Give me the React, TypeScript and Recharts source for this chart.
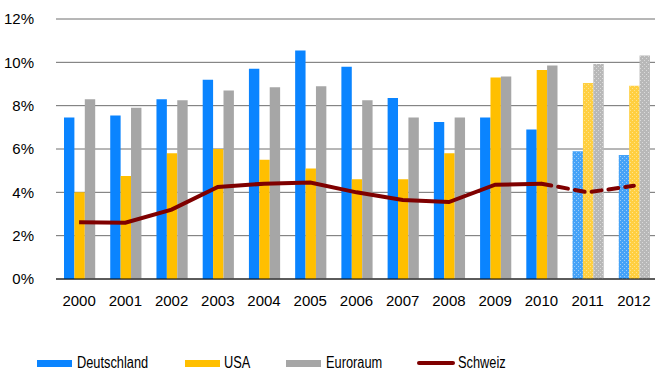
import React from 'react';
import {
  ComposedChart,
  Bar,
  Line,
  XAxis,
  YAxis,
  CartesianGrid,
  Cell,
} from 'recharts';

// Arbeitslosenquoten in Prozent, 2011 und 2012 Prognosen
const years = ['2000', '2001', '2002', '2003', '2004', '2005', '2006', '2007', '2008', '2009', '2010', '2011', '2012'];
const deutschland = [7.45, 7.55, 8.3, 9.2, 9.7, 10.55, 9.8, 8.35, 7.25, 7.45, 6.9, 5.9, 5.72];
const usa = [4.0, 4.75, 5.8, 6.0, 5.5, 5.1, 4.6, 4.6, 5.8, 9.3, 9.65, 9.05, 8.92];
const euroraum = [8.3, 7.9, 8.25, 8.7, 8.85, 8.9, 8.25, 7.45, 7.45, 9.35, 9.85, 9.92, 10.32];
const schweiz = [2.62, 2.6, 3.2, 4.25, 4.4, 4.45, 4.0, 3.65, 3.55, 4.35, 4.4, 4.0, 4.3];
const forecastFrom = '2010';
const forecastYears = ['2011', '2012'];
const yTicks = [0, 2, 4, 6, 8, 10, 12];

const seriesNames = {
  de: 'Deutschland',
  us: 'USA',
  eu: 'Euroraum',
  ch: 'Schweiz',
};

const colors = {
  de: '#0A84FF',
  us: '#FFBF00',
  eu: '#A6A6A6',
  ch: '#7F0000',
};

const forecastIndex = years.indexOf(forecastFrom);

const data = years.map((year, i) => ({
  year,
  de: deutschland[i],
  us: usa[i],
  eu: euroraum[i],
  ch: i <= forecastIndex ? schweiz[i] : null,
  chForecast: i >= forecastIndex ? schweiz[i] : null,
}));

const isForecast = (year: string) => forecastYears.includes(year);

const Pattern = ({ id, base, dot }: { id: string; base: string; dot: string }) => (
  <pattern id={id} width="4" height="4" patternUnits="userSpaceOnUse">
    <rect width="4" height="4" fill={base} />
    <rect x="0" y="0" width="1" height="1" fill={dot} />
    <rect x="2" y="2" width="1" height="1" fill={dot} />
  </pattern>
);

const legendItems = [
  { key: 'de', left: 37, textLeft: 77, type: 'rect' },
  { key: 'us', left: 185, textLeft: 224, type: 'rect' },
  { key: 'eu', left: 286, textLeft: 326, type: 'rect' },
  { key: 'ch', left: 417, textLeft: 458, type: 'line' },
] as const;

const ChartLegend = () => (
  <div style={{ position: 'absolute', left: 0, top: 350, width: 655, height: 24 }}>
    {legendItems.map((item) => (
      <React.Fragment key={item.key}>
        {item.type === 'rect' ? (
          <div
            style={{
              position: 'absolute',
              left: item.left,
              top: 10,
              width: 35,
              height: 7,
              background: colors[item.key],
            }}
          />
        ) : (
          <div
            style={{
              position: 'absolute',
              left: item.left,
              top: 11,
              width: 38,
              height: 4,
              borderRadius: 2,
              background: colors[item.key],
            }}
          />
        )}
        <span
          style={{
            position: 'absolute',
            left: item.textLeft,
            top: 4,
            fontFamily: '"Liberation Sans", Arial, sans-serif',
            fontSize: 16,
            lineHeight: '18px',
            color: '#000',
            whiteSpace: 'nowrap',
            transform: 'scaleX(0.8)',
            transformOrigin: 'left center',
          }}
        >
          {seriesNames[item.key]}
        </span>
      </React.Fragment>
    ))}
  </div>
);

const tickStyle = {
  fontFamily: '"Liberation Sans", Arial, sans-serif',
  fontSize: 15,
  fill: '#000',
};

export default function App() {
  return (
    <div style={{ position: 'fixed', left: 0, top: 0, width: 655, height: 373, overflow: 'hidden', background: '#fff' }}>
      <ComposedChart
        width={660}
        height={373}
        data={data}
        margin={{ top: 19, right: 3, bottom: 64, left: 0 }}
        barGap={0}
      >
        <defs>
          <Pattern id="fc-de" base="#45A2F7" dot="#9DCDF9" />
          <Pattern id="fc-us" base="#FFCF40" dot="#FFE38C" />
          <Pattern id="fc-eu" base="#B8B8B8" dot="#DADADA" />
        </defs>
        <CartesianGrid vertical={false} stroke="#6E6E6E" strokeWidth={1} />
        <XAxis
          dataKey="year"
          height={30}
          tickLine={false}
          axisLine={{ stroke: '#000', strokeWidth: 1 }}
          tick={tickStyle}
          tickMargin={10}
          interval={0}
        />
        <YAxis
          width={56}
          domain={[0, 12]}
          ticks={yTicks}
          tickFormatter={(v: number) => `${v}%`}
          tickLine={false}
          axisLine={false}
          tick={tickStyle}
          tickMargin={16}
          interval={0}
        />
        <Bar dataKey="de" name={seriesNames.de} fill={colors.de} barSize={10.4} isAnimationActive={false}>
          {data.map((d) => (
            <Cell key={d.year} fill={isForecast(d.year) ? 'url(#fc-de)' : colors.de} />
          ))}
        </Bar>
        <Bar dataKey="us" name={seriesNames.us} fill={colors.us} barSize={10.4} isAnimationActive={false}>
          {data.map((d) => (
            <Cell key={d.year} fill={isForecast(d.year) ? 'url(#fc-us)' : colors.us} />
          ))}
        </Bar>
        <Bar dataKey="eu" name={seriesNames.eu} fill={colors.eu} barSize={10.4} isAnimationActive={false}>
          {data.map((d) => (
            <Cell key={d.year} fill={isForecast(d.year) ? 'url(#fc-eu)' : colors.eu} />
          ))}
        </Bar>
        <Line
          dataKey="ch"
          name={seriesNames.ch}
          stroke={colors.ch}
          strokeWidth={4}
          dot={false}
          activeDot={false}
          connectNulls={false}
          isAnimationActive={false}
        />
        <Line
          dataKey="chForecast"
          name={seriesNames.ch}
          stroke={colors.ch}
          strokeWidth={4}
          strokeDasharray="10 7"
          strokeLinecap="round"
          dot={false}
          activeDot={false}
          isAnimationActive={false}
        />
      </ComposedChart>
      <ChartLegend />
    </div>
  );
}
